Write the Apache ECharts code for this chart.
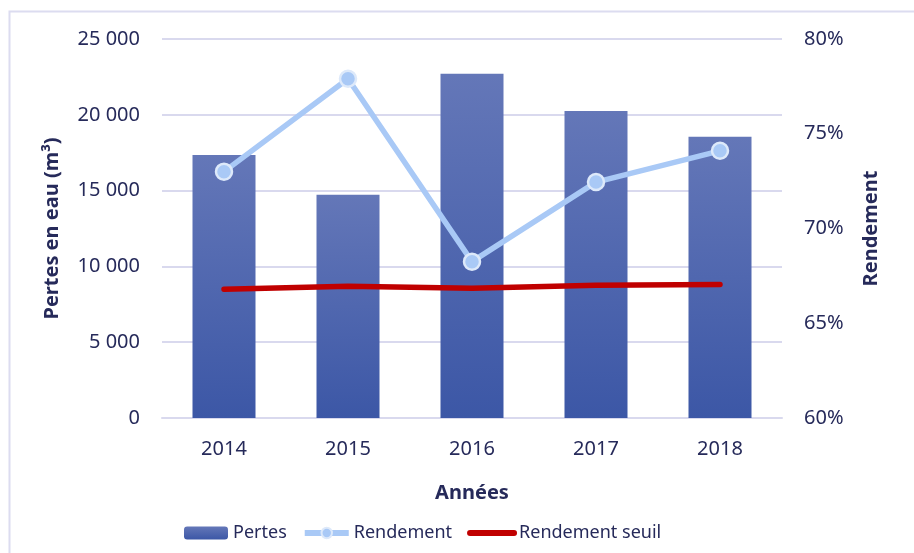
<!DOCTYPE html>
<html>
<head>
<meta charset="utf-8">
<script src="https://cdn.jsdelivr.net/npm/echarts@6/dist/echarts.min.js"></script>
<style>
  html, body { margin: 0; padding: 0; background: #fff; }
  #chart { width: 914px; height: 553px; }
</style>
</head>
<body>
<div id="chart"></div>
<script>
// données
var annees = ['2014', '2015', '2016', '2017', '2018'];
var pertes = [17350, 14720, 22700, 20250, 18550];
var rendement = [73.0, 77.9, 68.25, 72.45, 74.1];
var rendementSeuil = [66.8, 66.95, 66.85, 67.0, 67.05];

var TXT = '#262a5a';
var FONT = '"Noto Sans", "Open Sans", sans-serif';

// 25000 -> "25 000"
var fmtMilliers = function(v) {
    return String(v).replace(/\B(?=(\d{3})+(?!\d))/g, ' ');
};

var chart = echarts.init(document.getElementById('chart'));

chart.setOption({
    animation: false,
    textStyle: { fontFamily: FONT, color: TXT },
    graphic: [{
        type: 'rect',
        shape: { x: 9.5, y: 11.5, width: 920, height: 560 },
        style: { fill: 'none', stroke: '#dcdcf0', lineWidth: 2 },
        silent: true
    }],
    grid: { left: 162, right: 132, top: 39, bottom: 135 },
    legend: {
        top: 519,
        left: 179,
        itemWidth: 44,
        itemHeight: 13,
        itemGap: 15,
        itemTextGap: 3,
        textStyle: { fontSize: 18, color: TXT, fontFamily: FONT },
        data: [
            { name: 'Pertes' },
            { name: 'Rendement', lineStyle: { width: 6 } },
            { name: 'Rendement seuil', lineStyle: { width: 6 }, itemStyle: { opacity: 0 } }
        ]
    },
    xAxis: {
        type: 'category',
        data: annees,
        name: 'Années',
        nameLocation: 'middle',
        nameGap: 65,
        nameTextStyle: { fontSize: 20, fontWeight: 'bold', color: TXT },
        axisTick: { show: false },
        axisLine: { lineStyle: { color: '#d9d9ee', width: 2 } },
        axisLabel: { fontSize: 20, color: TXT, margin: 21 }
    },
    yAxis: [{
        type: 'value',
        min: 0,
        max: 25000,
        interval: 5000,
        name: 'Pertes en eau (m³)',
        nameLocation: 'middle',
        nameGap: 100,
        nameTextStyle: { fontSize: 20, fontWeight: 'bold', color: TXT },
        axisLine: { show: false },
        axisTick: { show: false },
        axisLabel: { fontSize: 20, color: TXT, margin: 22, formatter: fmtMilliers },
        splitLine: { lineStyle: { color: '#d9d9ee', width: 2 } }
    }, {
        type: 'value',
        min: 60,
        max: 80,
        interval: 5,
        name: 'Rendement',
        nameLocation: 'middle',
        nameGap: 79,
        nameTextStyle: { fontSize: 20, fontWeight: 'bold', color: TXT },
        axisLine: { show: false },
        axisTick: { show: false },
        axisLabel: { fontSize: 20, color: TXT, margin: 22, formatter: '{value}%' },
        splitLine: { show: false }
    }],
    series: [{
        name: 'Pertes',
        type: 'bar',
        data: pertes,
        barWidth: 63,
        itemStyle: {
            color: {
                type: 'linear', x: 0, y: 0, x2: 0, y2: 1,
                colorStops: [
                    { offset: 0, color: '#6477b8' },
                    { offset: 1, color: '#3c57a6' }
                ]
            }
        }
    }, {
        name: 'Rendement',
        type: 'line',
        yAxisIndex: 1,
        data: rendement,
        symbol: 'circle',
        symbolSize: 16,
        lineStyle: { color: '#a9c9f6', width: 5.5 },
        itemStyle: { color: '#a9c9f6', borderColor: '#dde9fa', borderWidth: 2.5 },
        z: 3
    }, {
        name: 'Rendement seuil',
        type: 'line',
        yAxisIndex: 1,
        data: rendementSeuil,
        symbol: 'none',
        lineStyle: { color: '#c00000', width: 5.5, cap: 'round' },
        itemStyle: { color: '#c00000' },
        z: 2
    }]
});
</script>
</body>
</html>
